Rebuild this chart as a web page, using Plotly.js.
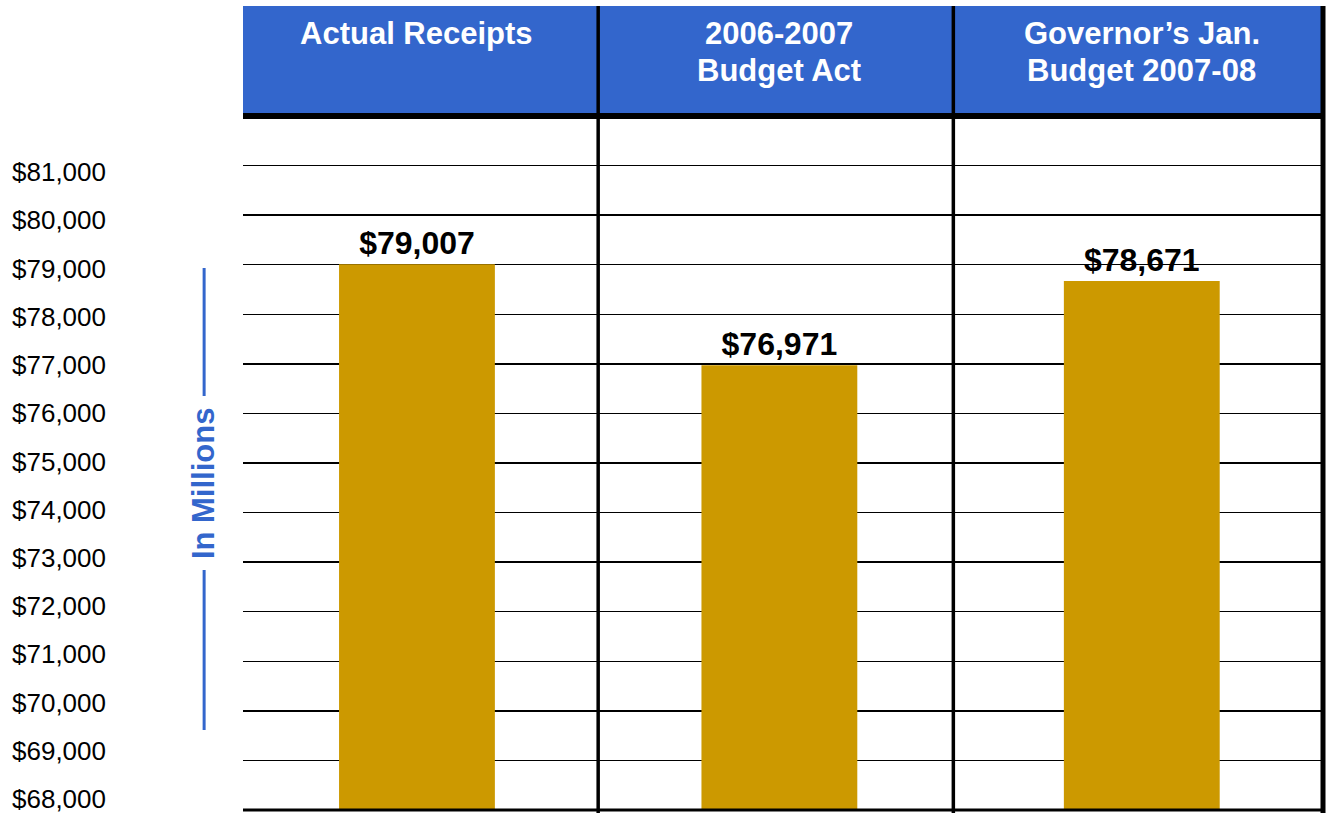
<!DOCTYPE html>
<html>
<head>
<meta charset="utf-8">
<script src="https://cdn.plot.ly/plotly-3.0.1.min.js"></script>
<style>html,body{margin:0;padding:0;background:#fff;}#chart{width:1329px;height:813px;}</style>
</head>
<body>
<div id="chart"></div>
<script>
// ---- data ----
var categories = ["Actual Receipts", "2006-2007<br>Budget Act", "Governor\u2019s Jan.<br>Budget 2007-08"];
var values = [79007, 76971, 78671];
var tickValues = [68000, 69000, 70000, 71000, 72000, 73000, 74000, 75000, 76000, 77000, 78000, 79000, 80000, 81000];
var tickLabels = ["$68,000", "$69,000", "$70,000", "$71,000", "$72,000", "$73,000", "$74,000", "$75,000", "$76,000", "$77,000", "$78,000", "$79,000", "$80,000", "$81,000"];
var valueLabels = ["$79,007", "$76,971", "$78,671"];
var axisTitle = "In Millions";

var FONT = 'Arial, "Liberation Sans", sans-serif';
var BLUE = '#3366CC';
var GOLD = '#CC9900';

var plotH = 813 - 116 - 3;
function py(px) { return 1 + (116 - px) / plotH; } // pixel row -> paper y

var catIds = categories.map(function (c, i) { return 'c' + i; });

var trace = {
  type: 'bar',
  x: catIds,
  y: values,
  marker: { color: GOLD, line: { width: 0 } },
  text: valueLabels,
  textposition: 'outside',
  textfont: { family: FONT, size: 32, color: '#000', weight: 'bold' },
  cliponaxis: false,
  hoverinfo: 'none'
};
// carrier for the label axis (draws nothing)
var labelCarrier = {
  type: 'scatter', mode: 'markers', x: catIds, y: [null, null, null], yaxis: 'y2',
  marker: { opacity: 0 }, hoverinfo: 'none', showlegend: false
};

var shapes = [
  { type: 'rect', xref: 'paper', yref: 'paper', x0: 0, x1: 1, y0: 1, y1: py(6), fillcolor: BLUE, line: { width: 0 }, layer: 'below' },
  { type: 'line', xref: 'paper', yref: 'paper', x0: 0, x1: 1, y0: py(116), y1: py(116), line: { color: '#000', width: 6 } },
  { type: 'line', xref: 'paper', yref: 'paper', x0: 0, x1: 1, y0: 0, y1: 0, line: { color: '#000', width: 3 } },
  { type: 'line', xref: 'x', yref: 'paper', x0: 0.5, x1: 0.5, y0: py(813), y1: py(6), line: { color: '#000', width: 3.5 } },
  { type: 'line', xref: 'x', yref: 'paper', x0: 1.48, x1: 1.48, y0: py(813), y1: py(6), line: { color: '#000', width: 3.5 } },
  { type: 'line', xref: 'paper', yref: 'paper', x0: 1, x1: 1, y0: py(813), y1: py(6), line: { color: '#000', width: 5 } },
  { type: 'line', xref: 'paper', yref: 'paper', x0: -0.036, x1: -0.036, y0: py(268), y1: py(396), line: { color: BLUE, width: 3 } },
  { type: 'line', xref: 'paper', yref: 'paper', x0: -0.036, x1: -0.036, y0: py(570), y1: py(730), line: { color: BLUE, width: 3 } }
];

var annotations = [];
categories.forEach(function (c, i) {
  c.split('<br>').forEach(function (line, j) {
    annotations.push({
      x: 'c' + i, xref: 'x', y: py(14 + j * 37), yref: 'paper', yanchor: 'top', xanchor: 'center',
      text: line, showarrow: false, align: 'center',
      font: { family: FONT, size: 31, color: '#fff', weight: 'bold' }
    });
  });
});
annotations.push({
  x: -0.036, xref: 'paper', y: py(483), yref: 'paper', text: axisTitle, textangle: -90,
  showarrow: false, xanchor: 'center', yanchor: 'middle',
  font: { family: FONT, size: 31, color: BLUE, weight: 'bold' }
});

var layout = {
  width: 1329, height: 813,
  margin: { l: 243, r: 6, t: 116, b: 3, pad: 0 },
  paper_bgcolor: '#fff', plot_bgcolor: '#fff',
  showlegend: false,
  bargap: 0.57,
  xaxis: {
    type: 'category', categoryarray: catIds, range: [-0.48, 2.5], showticklabels: false, showgrid: false,
    zeroline: false, showline: false, fixedrange: true
  },
  yaxis: {
    range: [68000, 82000], tickmode: 'array', tickvals: tickValues, showticklabels: false,
    showgrid: true, gridcolor: '#000', gridwidth: 1.5, zeroline: false, showline: false,
    ticks: '', fixedrange: true
  },
  // label axis: the reference prints its dollar labels on a slightly compressed scale
  yaxis2: {
    overlaying: 'y', side: 'left', anchor: 'x',
    range: [67772, 82162], tickmode: 'array', tickvals: tickValues, ticktext: tickLabels,
    showgrid: false, zeroline: false, showline: false, ticks: '',
    ticklabelstandoff: 136, ticklabeloverflow: 'allow',
    tickfont: { family: FONT, size: 26, color: '#000' }, fixedrange: true
  },
  shapes: shapes,
  annotations: annotations
};

Plotly.newPlot('chart', [trace, labelCarrier], layout, { displayModeBar: false, staticPlot: true });
</script>
</body>
</html>
